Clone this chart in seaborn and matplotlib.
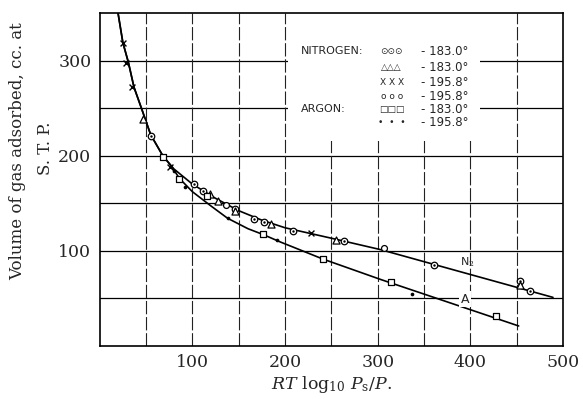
import matplotlib
matplotlib.use("Agg")
import matplotlib.pyplot as plt
from matplotlib.patches import Rectangle
import seaborn as sns

# smooth curves drawn through the points
n2_curve_x = [19.8, 25, 31, 37, 45, 55, 68, 80, 100, 125, 150, 175, 200, 250, 303, 489]
n2_curve_y = [350, 319, 298, 272, 250, 222, 200, 186, 170, 155, 142, 132, 124, 113, 101, 50.7]
ar_curve_x = [19.8, 25, 31, 37, 45, 55, 68, 78, 86, 100, 120, 138, 160, 176, 195, 241, 303, 452]
ar_curve_y = [350, 319, 298, 272, 250, 222, 200, 188, 176, 162, 147, 134, 123, 117, 109, 91, 69.6, 20.6]

# nitrogen -183.0 (dotted circles)
n2_dot_x = [55, 102, 111, 146, 166.6, 177, 208, 264, 361, 453, 464]
n2_dot_y = [221, 170, 162.5, 144, 133.6, 130, 121, 110.5, 85, 67.8, 57.3]
# nitrogen -183.0 (triangles)
n2_tri_x = [47, 119, 127.4, 146, 185, 254.7, 453]
n2_tri_y = [239, 160, 152, 141.6, 128.3, 111.5, 64]
# nitrogen -195.8 (crosses)
n2_x_x = [25, 28.5, 35, 76, 228]
n2_x_y = [319, 298, 272, 188, 119]
# nitrogen -195.8 (open circles)
n2_o_x = [136, 307]
n2_o_y = [147.5, 103]
# argon -183.0 (squares)
ar_sq_x = [68, 85.6, 116, 176, 240.7, 314, 427]
ar_sq_y = [199, 175.5, 157, 117, 91.6, 66.7, 31]
# argon -195.8 (dots)
ar_dot_x = [80, 92, 138, 191.7, 336.7]
ar_dot_y = [184, 167, 134, 110.8, 54]

legend_symbols = ["\u2299\u2299\u2299", "\u25b3\u25b3\u25b3", "X X X", "o o o", "\u25a1\u25a1\u25a1", "\u2022  \u2022  \u2022"]
legend_temps = ["- 183.0\u00b0", "- 183.0\u00b0", "- 195.8\u00b0", "- 195.8\u00b0", "- 183.0\u00b0", "- 195.8\u00b0"]

sns.set_style("white")
plt.rcParams["font.family"] = ["DejaVu Serif"]
plt.rcParams["mathtext.fontset"] = "dejavuserif"

fig = plt.figure(figsize=(5.83, 3.99), dpi=100)
ax = fig.add_axes([0.171, 0.134, 0.795, 0.833])

ax.set_xlim(0, 500)
ax.set_ylim(0, 350)

# grid
for yv in range(50, 350, 50):
    ax.axhline(yv, color="black", lw=0.9, zorder=1)
for xv in range(50, 500, 50):
    ax.axvline(xv, color="#222222", lw=0.8, ls=(0, (12, 2.5)), zorder=1)

# white box for the key
ax.add_patch(Rectangle((203, 215), 207, 135, facecolor="white", edgecolor="none", zorder=2))

sns.lineplot(x=n2_curve_x, y=n2_curve_y, sort=False, color="black", lw=1.2, ax=ax, zorder=3)
sns.lineplot(x=ar_curve_x, y=ar_curve_y, sort=False, color="black", lw=1.2, ax=ax, zorder=3)

kw = dict(ax=ax, zorder=4, legend=False)
sns.scatterplot(x=n2_dot_x, y=n2_dot_y, marker="o", s=22, facecolor="white", edgecolor="black", linewidth=0.9, **kw)
sns.scatterplot(x=n2_dot_x, y=n2_dot_y, marker="o", s=3, color="black", linewidth=0, **kw)
sns.scatterplot(x=n2_tri_x, y=n2_tri_y, marker="^", s=26, facecolor="white", edgecolor="black", linewidth=0.9, **kw)
sns.scatterplot(x=n2_x_x, y=n2_x_y, marker="x", s=18, color="black", linewidth=1.0, **kw)
sns.scatterplot(x=n2_o_x, y=n2_o_y, marker="o", s=18, facecolor="white", edgecolor="black", linewidth=0.9, **kw)
sns.scatterplot(x=ar_sq_x, y=ar_sq_y, marker="s", s=22, facecolor="white", edgecolor="black", linewidth=0.9, **kw)
sns.scatterplot(x=ar_dot_x, y=ar_dot_y, marker="o", s=7, color="black", linewidth=0, **kw)

# key text
rows_y = [310, 292.6, 277.5, 262, 249, 235]
sans = ["DejaVu Sans"]
ax.text(217, rows_y[0], "NITROGEN:", family=sans, fontsize=8, va="center", zorder=5)
ax.text(217, rows_y[4], "ARGON:", family=sans, fontsize=8, va="center", zorder=5)
for yy, sym, tt in zip(rows_y, legend_symbols, legend_temps):
    ax.text(315, yy, sym, family=sans, fontsize=6.5, ha="center", va="center", zorder=5)
    ax.text(347, yy, tt, family=sans, fontsize=8.5, va="center", zorder=5)

ax.text(397, 88, "N$_2$", family=sans, fontsize=8, ha="center", va="center", zorder=5)
ax.text(394, 49, "A", family=sans, fontsize=9, ha="center", va="center", zorder=5,
        bbox=dict(facecolor="white", edgecolor="none", pad=1))

ax.set_xticks([100, 200, 300, 400, 500])
ax.set_yticks([100, 200, 300])
ax.tick_params(labelsize=12.5, length=0, pad=6)
for s in ax.spines.values():
    s.set_color("black")
    s.set_linewidth(1.2)

ax.set_xlabel(r"$RT$ log$_{10}$ $P_{\rm s}/P$.", fontsize=12.5, labelpad=2)
fig.text(18 / 583, 1 - 151 / 399, "Volume of gas adsorbed, cc. at", rotation=90,
         ha="center", va="center", fontsize=12)
fig.text(46 / 583, 1 - 148 / 399, "S. T. P.", rotation=90, ha="center", va="center", fontsize=12)

fig.savefig("out.png", dpi=100)
